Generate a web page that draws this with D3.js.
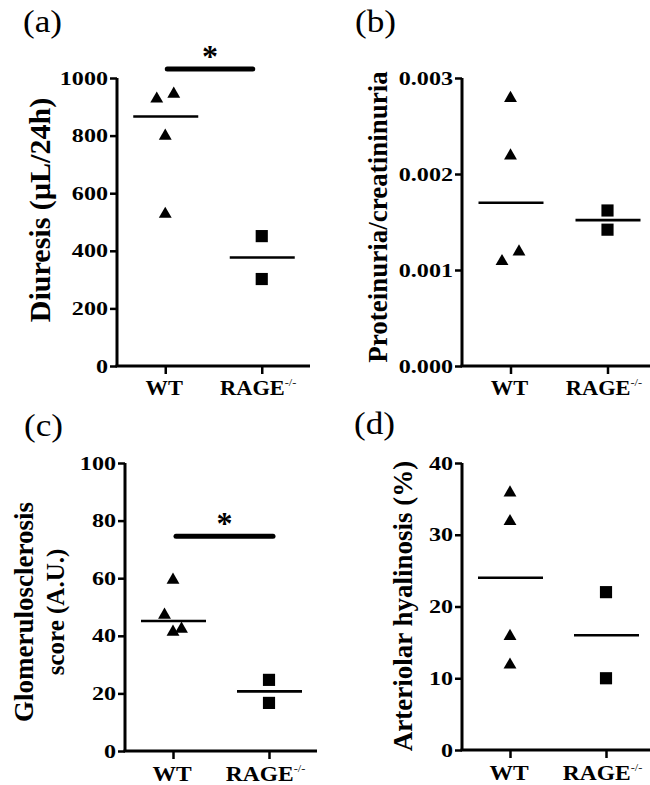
<!DOCTYPE html>
<html>
<head>
<meta charset="utf-8">
<script src="https://cdn.jsdelivr.net/npm/d3@7"></script>
<style>
  html, body { margin: 0; padding: 0; background: #fff; }
  svg { display: block; }
</style>
</head>
<body>
<svg id="chart" width="650" height="785" font-family="Liberation Serif"></svg>
<script>
// ---------------- DATA ----------------
const groups = ["WT", "RAGE"];

// (a) Diuresis (µL/24h)
const diuresisWT = [931, 948, 802, 531];
const diuresisRAGE = [451, 302];
const diuresisWTSlot = [-1, 1, 0, 0];
const diuresisTicks = [0, 200, 400, 600, 800, 1000];

// (b) Proteinuria/creatininuria
const proteinWT = [0.0028, 0.0022, 0.0011, 0.0012];
const proteinRAGE = [0.00162, 0.00142];
const proteinWTSlot = [0, 0, -1, 1];
const proteinTicks = [0, 0.001, 0.002, 0.003];

// (c) Glomerulosclerosis score (A.U.)
const glomWT = [59.7, 47.6, 41.7, 42.7];
const glomRAGE = [24.7, 16.7];
const glomWTSlot = [0, -1, 0, 1];
const glomTicks = [0, 20, 40, 60, 80, 100];

// (d) Arteriolar hyalinosis (%)
const hyalWT = [36, 32, 16, 12];
const hyalRAGE = [22, 10];
const hyalWTSlot = [0, 0, 0, 0];
const hyalTicks = [0, 10, 20, 30, 40];

// significance levels (value where the bar is drawn)
const diuresisSig = 1031;
const glomSig = 74.6;

// ---------------- LAYOUT ----------------
const svg = d3.select("#chart");
const FONT = "Liberation Serif";

const panels = [
  { label: "(a)", lx: 23, ly: 32,
    x0: 117, x1: 310, yTop: 78, yBot: 366,
    domain: [0, 1000], ticks: diuresisTicks, fmt: d3.format("d"),
    wt: diuresisWT, rage: diuresisRAGE, slot: diuresisWTSlot,
    title: ["Diuresis (µL/24h)"], titleX: [50], titleY: 210, titleSize: [30],
    xlSize: 20, xlDy: 29,
    sig: diuresisSig, sigX: [2, -9] },
  { label: "(b)", lx: 355, ly: 32,
    x0: 462, x1: 656, yTop: 78, yBot: 366,
    domain: [0, 0.003], ticks: proteinTicks, fmt: d3.format(".3f"),
    wt: proteinWT, rage: proteinRAGE, slot: proteinWTSlot,
    title: ["Proteinuria/creatininuria"], titleX: [387], titleY: 217, titleSize: [27],
    xlSize: 20, xlDy: 29 },
  { label: "(c)", lx: 24, ly: 436,
    x0: 125, x1: 317, yTop: 463, yBot: 751,
    domain: [0, 100], ticks: glomTicks, fmt: d3.format("d"),
    wt: glomWT, rage: glomRAGE, slot: glomWTSlot,
    title: ["Glomerulosclerosis", "score (A.U.)"], titleX: [33, 64], titleY: 612, titleSize: [27, 25],
    xlSize: 21, xlDy: 30,
    sig: glomSig, sigX: [3, 4] },
  { label: "(d)", lx: 354, ly: 434,
    x0: 462, x1: 654, yTop: 463, yBot: 750,
    domain: [0, 40], ticks: hyalTicks, fmt: d3.format("d"),
    wt: hyalWT, rage: hyalRAGE, slot: hyalWTSlot,
    title: ["Arteriolar hyalinosis (%)"], titleX: [412], titleY: 606, titleSize: [27],
    xlSize: 21, xlDy: 30 }
];

const triangle = d3.symbol().type(d3.symbolTriangle).size(72)();
const square = d3.symbol().type(d3.symbolSquare).size(148)();
const SPREAD = 8.5;
const TICK_SX = 1.27;   // horizontal stretch of tick labels
const LBL_SX = 1.12;    // horizontal stretch of category labels

panels.forEach(p => {
  const g = svg.append("g");
  const x = d3.scalePoint().domain(groups).range([p.x0, p.x1]).padding(0.5);
  const y = d3.scaleLinear().domain(p.domain).range([p.yBot, p.yTop]);

  // panel label
  g.append("text").attr("transform", `translate(${p.lx},${p.ly}) scale(1.1,1)`)
    .attr("font-family", FONT).attr("font-size", 32).text(p.label);

  // y axis
  const ya = g.append("g").attr("transform", `translate(${p.x0},0)`)
    .call(d3.axisLeft(y).tickValues(p.ticks).tickFormat(p.fmt).tickSize(7).tickPadding(2));
  ya.attr("font-family", FONT);
  ya.select(".domain").attr("stroke", "#000").attr("stroke-width", 3)
    .attr("d", `M0,${p.yTop}V${p.yBot}`);
  ya.selectAll(".tick line").attr("stroke", "#000").attr("stroke-width", 2.5);
  ya.selectAll(".tick text")
    .attr("font-size", 19).attr("font-weight", "bold").attr("fill", "#000")
    .attr("x", -9 / TICK_SX).attr("transform", `scale(${TICK_SX},1)`);

  // x axis
  const xa = g.append("g").attr("transform", `translate(0,${p.yBot})`)
    .call(d3.axisBottom(x).tickSize(8).tickFormat(""));
  xa.select(".domain").attr("stroke", "#000").attr("stroke-width", 3)
    .attr("d", `M${p.x0 - 1.5},0H${p.x1}`);
  xa.selectAll(".tick line").attr("stroke", "#000").attr("stroke-width", 2.5);
  xa.selectAll(".tick text").remove();

  // x labels
  g.append("text")
    .attr("transform", `translate(${x("WT") - 1},${p.yBot + p.xlDy}) scale(${LBL_SX},1)`)
    .attr("text-anchor", "middle").attr("font-family", FONT)
    .attr("font-size", p.xlSize).attr("font-weight", "bold")
    .text("WT");
  const rl = g.append("text")
    .attr("transform", `translate(${x("RAGE") - 3.5},${p.yBot + p.xlDy}) scale(${LBL_SX},1)`)
    .attr("text-anchor", "middle").attr("font-family", FONT)
    .attr("font-size", p.xlSize).attr("font-weight", "bold");
  rl.append("tspan").text("RAGE");
  rl.append("tspan").attr("dy", -9).attr("font-size", 11).attr("font-weight", "normal").text("-/-");

  // y title
  p.title.forEach((t, i) => {
    g.append("text")
      .attr("transform", `translate(${p.titleX[i]},${p.titleY}) rotate(-90)`)
      .attr("text-anchor", "middle").attr("font-family", FONT)
      .attr("font-size", p.titleSize[i]).attr("font-weight", "bold")
      .text(t);
  });

  // points
  g.selectAll("path.wt").data(p.wt).join("path").attr("class", "wt")
    .attr("d", triangle).attr("fill", "#000")
    .attr("transform", (d, i) => `translate(${x("WT") + p.slot[i] * SPREAD},${y(d) + 1})`);
  g.selectAll("path.rage").data(p.rage).join("path").attr("class", "rage")
    .attr("d", square).attr("fill", "#000")
    .attr("transform", d => `translate(${x("RAGE")},${y(d)})`);

  // medians
  [["WT", p.wt], ["RAGE", p.rage]].forEach(([k, vals]) => {
    const m = d3.median(vals);
    g.append("line").attr("x1", x(k) - 32).attr("x2", x(k) + 33)
      .attr("y1", y(m)).attr("y2", y(m)).attr("stroke", "#000").attr("stroke-width", 2.6);
  });

  // significance bar
  if (p.sig !== undefined) {
    const sy = y(p.sig);
    g.append("line").attr("x1", x("WT") + p.sigX[0]).attr("x2", x("RAGE") + p.sigX[1])
      .attr("y1", sy).attr("y2", sy).attr("stroke", "#000").attr("stroke-width", 5)
      .attr("stroke-linecap", "round");
    g.append("text").attr("x", (x("WT") + x("RAGE")) / 2 + (p.sigX[0] + p.sigX[1]) / 2)
      .attr("y", sy - 2).attr("text-anchor", "middle").attr("font-family", FONT)
      .attr("font-size", 32).attr("font-weight", "bold").text("*");
  }
});
</script>
</body>
</html>
